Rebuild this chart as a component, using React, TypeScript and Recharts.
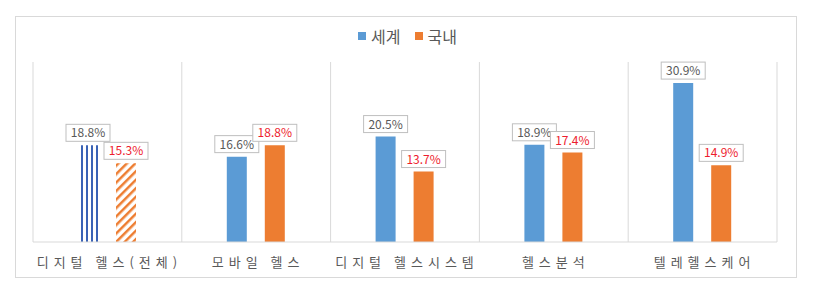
import React from 'react';
import { BarChart, Bar, XAxis, YAxis, CartesianGrid, Legend, LabelList, Cell } from 'recharts';

const categories = ['디지털 헬스(전체)', '모바일 헬스', '디지털 헬스시스템', '헬스분석', '텔레헬스케어'];
const worldValues = [18.8, 16.6, 20.5, 18.9, 30.9];
const domesticValues = [15.3, 18.8, 13.7, 17.4, 14.9];
const seriesNames = ['세계', '국내'];

const COLORS = ['#5B9BD5', '#ED7D31'];
const LABEL_COLORS = ['#595959', '#EE1C2E'];
const FONT = '"Noto Sans CJK KR", "Noto Sans", sans-serif';

const data = categories.map((name, i) => ({
  name,
  world: worldValues[i],
  domestic: domesticValues[i],
}));

const renderLabel = (color: string) => (props: any) => {
  const { x, y, width, value } = props;
  const cx = x + width / 2;
  const w = 44;
  const h = 17;
  const bottom = y - 4;
  return (
    <g>
      <rect x={cx - w / 2} y={bottom - h} width={w} height={h} fill="#fff" stroke="#BFBFBF" strokeWidth={1} />
      <text x={cx} y={bottom - 4} textAnchor="middle" fontSize={12} fontFamily={FONT} fill={color}>
        {`${Number(value).toFixed(1)}%`}
      </text>
    </g>
  );
};

const CategoryTick = (props: any) => {
  const { x, y, payload } = props;
  return (
    <text x={x + 2} y={y + 25} textAnchor="middle" fontSize={13} fontFamily={FONT} fill="#595959" letterSpacing={5}>
      {payload.value}
    </text>
  );
};

const renderLegend = () => (
  <div style={{ display: 'flex', justifyContent: 'center', gap: 14, fontFamily: FONT, fontSize: 16, color: '#595959' }}>
    {seriesNames.map((s, i) => (
      <div key={s} style={{ display: 'flex', alignItems: 'center', gap: 5 }}>
        <span style={{ display: 'inline-block', width: 8, height: 8, background: COLORS[i] }} />
        <span>{s}</span>
      </div>
    ))}
  </div>
);

const boundaries = ({ offset }: any) => {
  const n = categories.length;
  return Array.from({ length: n + 1 }, (_, i) => offset.left + (i * offset.width) / n);
};

export default function App() {
  return (
    <div style={{ position: 'absolute', left: 0, top: 0, width: 815, height: 292, background: '#fff' }}>
      <div
        style={{
          position: 'absolute',
          left: 15,
          top: 16,
          width: 780,
          height: 260,
          border: '1px solid #D9D9D9',
        }}
      />
      <div style={{ position: 'absolute', left: 0, top: 0 }}>
        <BarChart
          width={815}
          height={292}
          data={data}
          margin={{ top: 38, right: 38, bottom: 20, left: 33 }}
          barSize={20}
          barGap={18}
        >
          <defs>
            <pattern id="vstripes" patternUnits="userSpaceOnUse" width={5} height={5}>
              <rect width={5} height={5} fill="#fff" />
              <rect x={1} width={2} height={5} fill="#3A62B5" />
            </pattern>
            <pattern id="hatch" patternUnits="userSpaceOnUse" width={6} height={6} patternTransform="rotate(45)">
              <rect width={6} height={6} fill="#fff" />
              <rect width={2.5} height={6} fill="#ED7D31" />
            </pattern>
          </defs>
          <CartesianGrid horizontal={false} stroke="#D9D9D9" verticalCoordinatesGenerator={boundaries} />
          <XAxis
            dataKey="name"
            height={30}
            tickLine={false}
            tickSize={0}
            tickMargin={0}
            axisLine={{ stroke: '#D9D9D9' }}
            tick={<CategoryTick />}
            interval={0}
          />
          <YAxis hide domain={[0, 35]} />
          <Legend verticalAlign="top" content={renderLegend} wrapperStyle={{ top: 24, left: 0, width: 815 }} />
          <Bar dataKey="world" name={seriesNames[0]} fill={COLORS[0]} isAnimationActive={false}>
            {data.map((_, i) => (
              <Cell key={`w-${i}`} fill={i === 0 ? 'url(#vstripes)' : COLORS[0]} />
            ))}
            <LabelList dataKey="world" content={renderLabel(LABEL_COLORS[0])} />
          </Bar>
          <Bar dataKey="domestic" name={seriesNames[1]} fill={COLORS[1]} isAnimationActive={false}>
            {data.map((_, i) => (
              <Cell key={`d-${i}`} fill={i === 0 ? 'url(#hatch)' : COLORS[1]} />
            ))}
            <LabelList dataKey="domestic" content={renderLabel(LABEL_COLORS[1])} />
          </Bar>
        </BarChart>
      </div>
    </div>
  );
}
